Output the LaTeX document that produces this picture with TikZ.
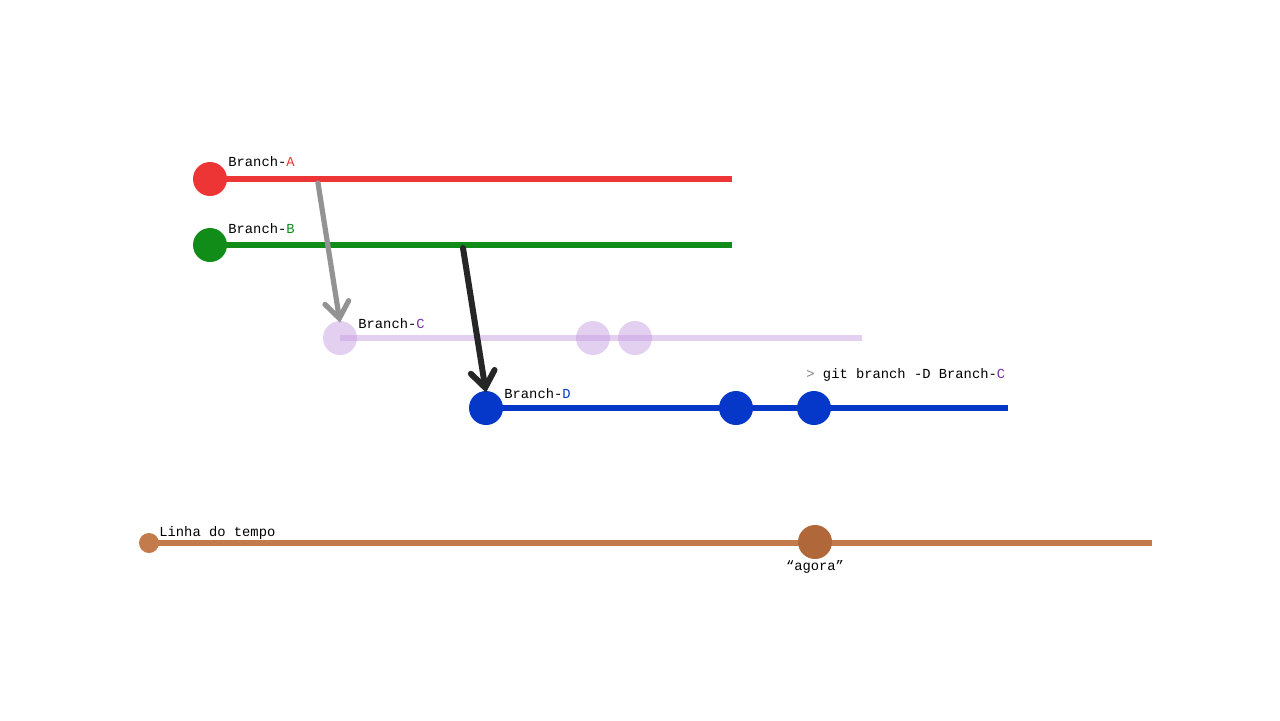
\documentclass[tikz,border=0pt]{standalone}
\usepackage{fontspec}
\setmonofont{Liberation Mono}
\usetikzlibrary{positioning, arrows.meta}
\definecolor{redA}{HTML}{EE3535}
\definecolor{greenB}{HTML}{118C18}
\definecolor{lilacC}{HTML}{C8A0E2}
\definecolor{purpleC}{HTML}{7733AA}
\definecolor{blueD}{HTML}{0538C8}
\definecolor{timeline}{HTML}{C47B4C}
\definecolor{now}{HTML}{B0683A}
\tikzset{
commit/.style={shape=circle, minimum size=17pt, inner sep=0},
branchline/.style={line width=3pt},
lbl/.style={font=\ttfamily\fontsize{6.9}{8}\selectfont, inner sep=0, anchor=base west},
merge/.style={line width=2.6pt, line cap=round, -{Straight Barb[length=8pt, width=12pt, line cap=round]}}}
\begin{document}
\begin{tikzpicture}[x=0.5pt, y=-0.5pt]
\useasboundingbox (0,0) rectangle (1280,720);
% branch A
\coordinate (aend) at (732,179);
\draw [branchline, redA] (210,179) coordinate (astart) -- (aend);
\node [commit, fill=redA] (a0) at (astart) {};
\node [lbl] (alabel) at (228,166) {Branch-\textcolor{redA}{A}};
% branch B
\coordinate (bend) at (732,245);
\draw [branchline, greenB] (210,245) coordinate (bstart) -- (bend);
\node [commit, fill=greenB] (b0) at (bstart) {};
\node [lbl] (blabel) at (228,233) {Branch-\textcolor{greenB}{B}};
% branch C (deleted)
\coordinate (cend) at (862,338);
\draw [branchline, lilacC, opacity=0.5] (340,338) coordinate (cstart) -- (cend);
\node [commit, fill=lilacC, fill opacity=0.5] (c0) at (cstart) {};
\node [commit, fill=lilacC, fill opacity=0.5] (c1) at (593,338) {};
\node [commit, fill=lilacC, fill opacity=0.5] (c2) at (635,338) {};
\node [lbl] (clabel) at (358,328) {Branch-\textcolor{purpleC}{C}};
% branch D
\coordinate (dend) at (1008,408);
\draw [branchline, blueD] (486,408) coordinate (dstart) -- (dend);
\node [commit, fill=blueD] (d0) at (dstart) {};
\node [commit, fill=blueD] (d1) at (736,408) {};
\node [commit, fill=blueD] (d2) at (814,408) {};
\node [lbl] (dlabel) at (504,398) {Branch-\textcolor{blueD}{D}};
\node [lbl] (cmd) at (806,378) {\textcolor{gray}{>} git branch -D Branch-\textcolor{purpleC}{C}};
% merges
\coordinate (afork) at (318,183);
\coordinate (bfork) at (463,248);
\draw [merge, gray!85] (afork) -- ([yshift=-1pt]c0.north);
\draw [merge, black!85, line width=3pt] (bfork) -- ([yshift=-1pt]d0.north);
% timeline
\coordinate (tend) at (1152,543);
\draw [branchline, timeline] (149,543) coordinate (tstart) -- (tend);
\node [commit, fill=timeline, minimum size=10pt] (t0) at (tstart) {};
\node [commit, fill=now] (tnow) at (815,542) {};
\node [lbl] (tlabel) at (159,536) {Linha do tempo};
\node [lbl, anchor=base] (nowlabel) at (815,570) {“agora”};
\end{tikzpicture}
\end{document}
